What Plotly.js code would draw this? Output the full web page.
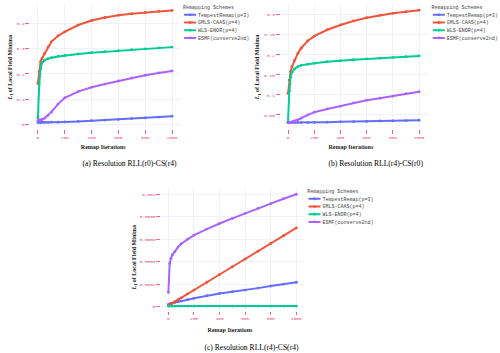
<!DOCTYPE html>
<html>
<head>
<meta charset="utf-8">
<script src="https://cdn.plot.ly/plotly-3.0.1.min.js"></script>
<style>
  html, body { margin: 0; padding: 0; width: 500px; height: 353px; overflow: hidden; background: #fff; }
  /* the figure is laid out at 2.5x and shrunk, like the scaled-down original */
  #chart { width: 1250px; height: 883px; transform: scale(0.4); transform-origin: 0 0; }
</style>
</head>
<body>
<div id="chart"></div>
<script>
// remap iteration counts (shared by all panels)
var iters = [0, 10, 20, 30, 50, 75, 100, 150, 200, 300, 400, 500, 600, 700, 800, 900, 1000];
var schemes = ["TempestRemap(p=3)", "GMLS-CAAS(p=4)", "WLS-ENOR(p=4)", "ESMF(conserve2nd)"];
var colors = ["#636efa", "#ef553b", "#00cc96", "#ab63fa"];

// (a) RLL(r0)-CS(r4)
var tempestA = [0.007, 0.007, 0.007, 0.007, 0.007, 0.007, 0.008, 0.008, 0.009, 0.011, 0.014, 0.016, 0.019, 0.022, 0.025, 0.028, 0.032];
var gmlsA    = [0.163, 0.209, 0.249, 0.262, 0.282, 0.307, 0.328, 0.352, 0.368, 0.395, 0.413, 0.425, 0.434, 0.440, 0.445, 0.449, 0.453];
var wlsA     = [0.025, 0.160, 0.220, 0.245, 0.255, 0.261, 0.265, 0.270, 0.274, 0.280, 0.285, 0.289, 0.293, 0.297, 0.300, 0.304, 0.307];
var esmfA    = [0.015, 0.016, 0.017, 0.018, 0.024, 0.035, 0.048, 0.080, 0.105, 0.130, 0.147, 0.160, 0.172, 0.184, 0.195, 0.204, 0.212];

// (b) RLL(r4)-CS(r0)
var tempestB = [0.031, 0.031, 0.031, 0.031, 0.031, 0.031, 0.031, 0.031, 0.0315, 0.032, 0.033, 0.0335, 0.034, 0.035, 0.0355, 0.036, 0.037];
var gmlsB    = [0.104, 0.137, 0.158, 0.171, 0.187, 0.204, 0.217, 0.235, 0.247, 0.263, 0.275, 0.285, 0.293, 0.299, 0.304, 0.308, 0.312];
var wlsB     = [0.033, 0.110, 0.145, 0.157, 0.165, 0.171, 0.174, 0.177, 0.179, 0.183, 0.186, 0.188, 0.190, 0.192, 0.194, 0.196, 0.1975];
var esmfB    = [0.031, 0.031, 0.032, 0.033, 0.035, 0.038, 0.042, 0.050, 0.057, 0.065, 0.072, 0.080, 0.087, 0.092, 0.097, 0.103, 0.108];

// (c) RLL(r4)-CS(r4)
var tempestC = [0.00002, 0.000025, 0.00003, 0.000032, 0.000038, 0.000045, 0.00005, 0.000062, 0.000074, 0.000097, 0.000118, 0.000133, 0.000148, 0.000165, 0.000183, 0.0002, 0.000217];
var gmlsC    = [0.00001, 0.000017, 0.000024, 0.000031, 0.000045, 0.000062, 0.000079, 0.000114, 0.000148, 0.000217, 0.000286, 0.000355, 0.000424, 0.000493, 0.000562, 0.000631, 0.0007];
var wlsC     = [0.000005, 0.000005, 0.000005, 0.000005, 0.000005, 0.000005, 0.000005, 0.000005, 0.000005, 0.000005, 0.000005, 0.000005, 0.000005, 0.000005, 0.000005, 0.000005, 0.000005];
var esmfC    = [0.000127, 0.000385, 0.00043, 0.00046, 0.00049, 0.00053, 0.00056, 0.0006, 0.000636, 0.00069, 0.00074, 0.000785, 0.00083, 0.000875, 0.000917, 0.00096, 0.001];

var panels = [
  {ys: [tempestA, gmlsA, wlsA, esmfA], ax: "", leg: "legend"},
  {ys: [tempestB, gmlsB, wlsB, esmfB], ax: "2", leg: "legend2"},
  {ys: [tempestC, gmlsC, wlsC, esmfC], ax: "3", leg: "legend3"}
];

var data = [];
panels.forEach(function(p) {
  for (var i = 0; i < 4; i++) {
    data.push({
      x: iters,
      y: p.ys[i],
      mode: "lines+markers",
      name: schemes[i],
      xaxis: "x" + p.ax,
      yaxis: "y" + p.ax,
      legend: p.leg,
      line: {color: colors[i], width: 5},
      marker: {color: colors[i], size: 7}
    });
  }
});

var pink = "#ee3b6a";
function xax(domain) {
  return {
    domain: domain, range: [-60, 1060], dtick: 200, tick0: 0,
    ticks: "outside", ticklen: 8, tickwidth: 2, tickcolor: pink,
    tickfont: {family: "Liberation Mono", size: 11, color: pink},
    gridcolor: "#ebf0f8", gridwidth: 2, zeroline: false, showline: false
  };
}
function yax(domain, range, anchor, tickvals) {
  return {
    domain: domain, range: range, anchor: anchor, tickvals: tickvals,
    exponentformat: "none",
    ticks: "outside", ticklen: 10, tickwidth: 2, tickcolor: pink,
    tickfont: {family: "Liberation Mono", size: 11, color: pink},
    gridcolor: "#ebf0f8", gridwidth: 2, zeroline: false, showline: false
  };
}
function legendAt(x, y) {
  return {
    x: x, y: y, xref: "paper", yref: "paper", xanchor: "left", yanchor: "top",
    bgcolor: "rgba(0,0,0,0)",
    title: {text: "Remapping Schemes", side: "top", font: {family: "Liberation Mono", size: 12.5, color: "#444"}},
    font: {family: "Liberation Mono", size: 12.5, color: "#444"}
  };
}

var titleFont = {family: "Liberation Serif", size: 15, color: "#222", weight: "bold"};
var capFont = {family: "Liberation Serif", size: 19, color: "#000"};
var yTitle = "<i>L</i><sub>1</sub> of Local Field Minima";

function ann(text, x, y, font, angle) {
  return {text: text, x: x, y: y, xref: "paper", yref: "paper", showarrow: false,
          xanchor: "center", yanchor: "middle", font: font, textangle: angle || 0};
}

var layout = {
  width: 1250, height: 883,
  margin: {l: 0, r: 0, t: 0, b: 0},
  paper_bgcolor: "#fff", plot_bgcolor: "#fff",
  xaxis:  xax([0.06, 0.362]),
  yaxis:  yax([0.632, 0.986], [-0.023, 0.475], "x", [0, 0.1, 0.2, 0.3, 0.4]),
  xaxis2: Object.assign(xax([0.563, 0.858]), {anchor: "y2"}),
  yaxis2: yax([0.632, 0.986], [0.0125, 0.325], "x2", [0.05, 0.1, 0.15, 0.2, 0.25, 0.3]),
  xaxis3: Object.assign(xax([0.323, 0.611]), {anchor: "y3"}),
  yaxis3: yax([0.119, 0.466], [-0.00004, 0.00105], "x3", [0, 0.0002, 0.0004, 0.0006, 0.0008, 0.001]),
  legend:  legendAt(0.366, 0.993),
  legend2: legendAt(0.866, 0.993),
  legend3: legendAt(0.616, 0.472),
  annotations: [
    ann("Remap Iterations", 0.207, 0.584, titleFont),
    ann("Remap Iterations", 0.705, 0.584, titleFont),
    ann("Remap Iterations", 0.462, 0.065, titleFont),
    ann(yTitle, 0.02, 0.81, titleFont, -90),
    ann(yTitle, 0.518, 0.81, titleFont, -90),
    ann(yTitle, 0.27, 0.272, titleFont, -90),
    ann("(a) Resolution RLL(r0)-CS(r4)", 0.26, 0.538, capFont),
    ann("(b) Resolution RLL(r4)-CS(r0)", 0.755, 0.538, capFont),
    ann("(c) Resolution RLL(r4)-CS(r4)", 0.505, 0.016, capFont)
  ]
};

Plotly.newPlot("chart", data, layout, {displayModeBar: false, staticPlot: true});
</script>
</body>
</html>
